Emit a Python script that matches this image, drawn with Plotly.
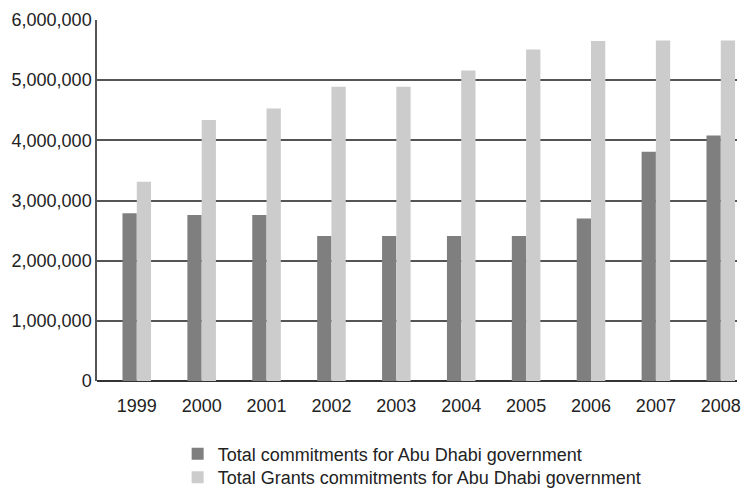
import plotly.graph_objects as go

# Commitments by year (values in the local currency units shown on the axis)
years = ["1999", "2000", "2001", "2002", "2003", "2004", "2005", "2006", "2007", "2008"]
total_commitments = [2790000, 2760000, 2760000, 2410000, 2410000, 2410000, 2410000, 2700000, 3810000, 4080000]
grants_commitments = [3310000, 4340000, 4530000, 4890000, 4890000, 5160000, 5510000, 5650000, 5660000, 5660000]
y_ticks = [0, 1000000, 2000000, 3000000, 4000000, 5000000, 6000000]

name_total = "Total commitments for Abu Dhabi government"
name_grants = "Total Grants commitments for Abu Dhabi government"

font_family = "Liberation Sans, Arial, Helvetica, sans-serif"
text_color = "#222222"
font_size = 18

fig = go.Figure()
fig.add_trace(go.Bar(
    x=years, y=total_commitments, name=name_total,
    marker=dict(color="#7f7f7f", line=dict(width=0)),
    legend="legend",
))
fig.add_trace(go.Bar(
    x=years, y=grants_commitments, name=name_grants,
    marker=dict(color="#cccccc", line=dict(width=0)),
    legend="legend2",
))

legend_common = dict(
    x=0.126, xanchor="left", yref="container", yanchor="middle",
    bgcolor="rgba(0,0,0,0)", font=dict(size=font_size, color=text_color),
)

fig.update_layout(
    width=741, height=490,
    margin=dict(l=97, r=0, t=20, b=109),
    paper_bgcolor="white", plot_bgcolor="white",
    barmode="group", bargap=0.56, bargroupgap=0,
    font=dict(family=font_family, size=font_size, color=text_color),
    showlegend=True,
    legend=dict(y=0.0735, **legend_common),
    legend2=dict(y=0.0255, **legend_common),
)

fig.update_xaxes(
    type="category",
    range=[-0.613, 9.25],
    showgrid=False, ticks="", showline=False, zeroline=False,
    tickfont=dict(size=font_size, color=text_color),
    ticklabelstandoff=12,
)
fig.update_yaxes(
    range=[0, 6000000],
    tickvals=y_ticks,
    ticktext=[f"{v:,}" for v in y_ticks],
    showgrid=True, gridcolor="#555555", gridwidth=1.5,
    showline=True, linecolor="#555555", linewidth=1.5,
    zeroline=True, zerolinecolor="#333333", zerolinewidth=1.5,
    ticks="", tickfont=dict(size=font_size, color=text_color),
    ticklabelstandoff=0,
)

fig.write_html("out.html")
